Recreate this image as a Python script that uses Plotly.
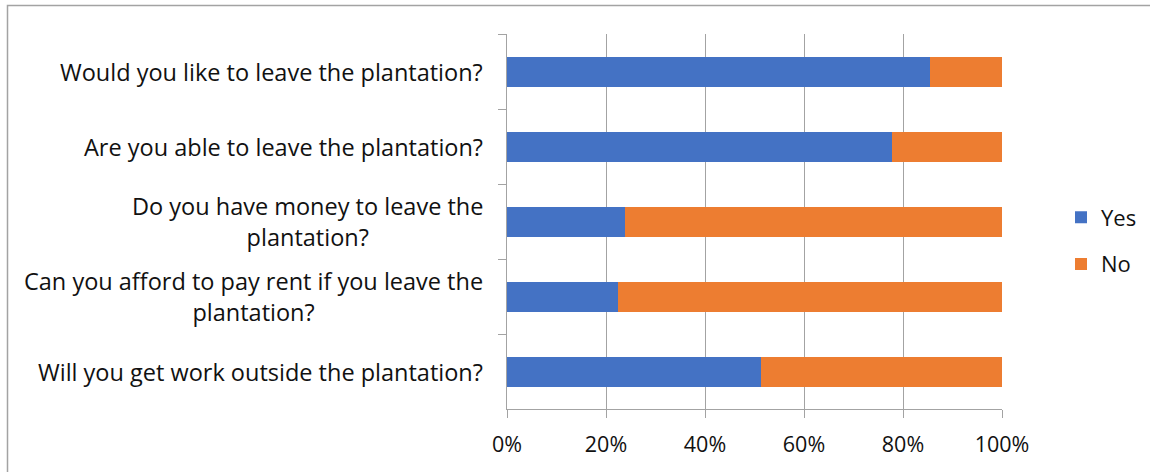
import plotly.graph_objects as go

categories = [
    "Would you like to leave the plantation?",
    "Are you able to leave the plantation?",
    "Do you have money to leave the<br>plantation?",
    "Can you afford to pay rent if you leave the<br>plantation?",
    "Will you get work outside the plantation?",
]
yes_vals = [85.5, 77.8, 23.8, 22.5, 51.3]
no_vals = [100 - v for v in yes_vals]
x_ticks = [0, 20, 40, 60, 80, 100]
x_tick_labels = ["0%", "20%", "40%", "60%", "80%", "100%"]

W, H = 1150, 472
ML, MR, MT, MB = 507, 148, 34, 63
PW, PH = W - ML - MR, H - MT - MB
FONT = "Open Sans"
GRID = "#a3a3a3"
TXT = "#111111"

fig = go.Figure()
fig.add_trace(go.Bar(y=categories, x=yes_vals, orientation="h", name="Yes",
                     marker=dict(color="#4472C4", line=dict(width=0)),
                     legendgroup="yes"))
fig.add_trace(go.Bar(y=categories, x=no_vals, orientation="h", name="No",
                     marker=dict(color="#ED7D31", line=dict(width=0)),
                     legendgroup="no"))

for c in categories:
    fig.add_annotation(x=(485 - ML) / PW, xref="paper", y=c, yref="y",
                       text=c, showarrow=False, xanchor="right", yanchor="middle",
                       align="center", font=dict(family=FONT, size=23.5, color=TXT))

# outer chart border (left and top visible)
fig.add_shape(type="rect", xref="paper", yref="paper",
              x0=(7.5 - ML) / PW, x1=2, y0=-1, y1=1 + (MT - 5.5) / PH,
              line=dict(color=GRID, width=1.5), fillcolor="rgba(0,0,0,0)", layer="below")

fig.update_layout(
    width=W, height=H, barmode="stack", bargap=0.6,
    margin=dict(l=ML, r=MR, t=MT, b=MB, autoexpand=False),
    paper_bgcolor="white", plot_bgcolor="white",
    font=dict(family=FONT, size=21, color=TXT),
    showlegend=True,
    legend=dict(x=(1061 - ML) / PW, y=1 - (241 - MT) / PH, xanchor="left", yanchor="middle",
                traceorder="grouped", tracegroupgap=15, font=dict(family=FONT, size=22, color=TXT),
                itemwidth=30),
    xaxis=dict(range=[0, 100], tickvals=x_ticks, ticktext=x_tick_labels,
               showgrid=True, gridcolor=GRID, gridwidth=1, zeroline=False,
               showline=True, linecolor=GRID, linewidth=1,
               ticks="outside", ticklen=8, tickcolor=GRID, ticklabelstandoff=8,
               tickfont=dict(family=FONT, size=21.5, color=TXT), fixedrange=True),
    yaxis=dict(autorange="reversed", showticklabels=False, showgrid=False,
               showline=True, linecolor=GRID, linewidth=1,
               ticks="outside", ticklen=8, tickcolor=GRID, tickson="boundaries",
               zeroline=False, fixedrange=True),
)

fig.write_html("out.html", config={"displayModeBar": False},
               post_script="document.body.style.margin='0';")
